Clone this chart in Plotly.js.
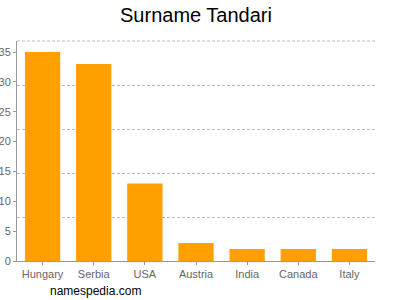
<!DOCTYPE html>
<html><head><meta charset="utf-8">
<script src="https://cdn.plot.ly/plotly-3.0.1.min.js"></script>
<style>html,body{margin:0;padding:0;background:#fff}#c{width:400px;height:300px}</style>
</head><body><div id="c"></div>
<script>
const countries = ["Hungary","Serbia","USA","Austria","India","Canada","Italy"];
const counts = [35,33,13,3,2,2,2];
const yTicks = [0,5,10,15,20,25,30,35];
const yMax = 36.85;

const data = [{
  type:'bar', x:countries, y:counts,
  marker:{color:'#FFA000'}, hoverinfo:'none'
},{
  type:'scatter', x:countries, y:counts, yaxis:'y2',
  mode:'none', hoverinfo:'none', showlegend:false
}];
const layout = {
  width:400, height:300,
  margin:{l:17,r:25,t:41,b:39},
  paper_bgcolor:'#fff', plot_bgcolor:'#fff',
  showlegend:false, bargap:0.31,
  title:{text:'Surname Tandari', font:{family:'Liberation Sans, Arial, sans-serif', size:20, color:'#000'}, x:0.49, xanchor:'center', y:0.95, yanchor:'middle'},
  font:{family:'Liberation Sans, Arial, sans-serif', color:'#666', size:11},
  xaxis:{showline:true, linecolor:'#999', linewidth:1, ticks:'outside', ticklen:3, tickcolor:'#999', showgrid:false, tickfont:{size:11,color:'#666'}, fixedrange:true},
  yaxis:{range:[0,yMax], tickvals:yTicks, showline:true, linecolor:'#999', linewidth:1, ticks:'outside', ticklen:3, tickcolor:'#999', showgrid:false, zeroline:false, tickfont:{size:11,color:'#666'}, fixedrange:true},
  yaxis2:{overlaying:'y', range:[0,yMax], tick0:0, dtick:yMax/5, showticklabels:false, showgrid:true, gridcolor:'#bbb', griddash:'3px,2px', gridwidth:1, zeroline:false, ticks:''},
  shapes:[{type:'line', xref:'paper', yref:'paper', x0:0, x1:1, y0:1, y1:1, line:{color:'#bbb', width:1, dash:'3px,2px'}, layer:'below'}],
  annotations:[{text:'namespedia.com', xref:'paper', yref:'paper', x:0.087, y:-0.136, xanchor:'left', yanchor:'middle', showarrow:false, font:{size:12,color:'#000'}}]
};
Plotly.newPlot('c', data, layout, {displayModeBar:false, staticPlot:true});
</script></body></html>
